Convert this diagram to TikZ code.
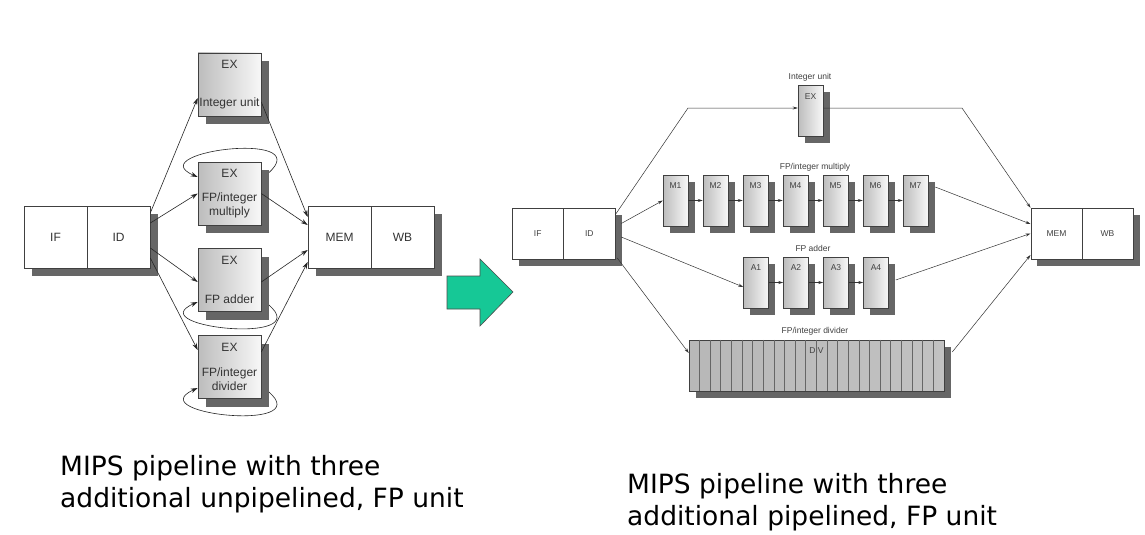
\documentclass[tikz,border=0pt]{standalone}
\usepackage{fontspec}
\setmainfont{Liberation Sans}
\newfontfamily\capfont{DejaVu Sans}
\usetikzlibrary{calc, arrows.meta, shadows, backgrounds}

\definecolor{arrowgreen}{RGB}{22,200,150}

\tikzset{
  stagebox/.style={draw=black!75, fill=white, line width=0.6pt, inner sep=0pt,
    minimum width=63pt, minimum height=62pt, text=black!80, font=\fontsize{12}{14}\selectfont,
    drop shadow={shadow xshift=8pt, shadow yshift=-8pt, fill=black!60, opacity=1}},
  exbox/.style={stagebox, left color=black!26, right color=black!3, minimum height=63pt},
  lbl/.style={text=black!80, font=\fontsize{12}{14}\selectfont, align=center, inner sep=0pt},
  larrow/.style={line width=0.6pt, black!85, -{Stealth[length=7pt, width=4.5pt]}},
  rstage/.style={draw=black!75, fill=white, line width=0.5pt, inner sep=0pt,
    minimum width=51.5pt, minimum height=51pt, text=black!75, font=\fontsize{8.5}{10}\selectfont,
    drop shadow={shadow xshift=6.5pt, shadow yshift=-6.5pt, fill=black!60, opacity=1}},
  unitbox/.style={draw=black!75, left color=black!26, right color=black!3, line width=0.5pt,
    inner sep=0pt, minimum width=25pt, minimum height=51pt,
    drop shadow={shadow xshift=6.5pt, shadow yshift=-6.5pt, fill=black!60, opacity=1},
    label={[unitlbl]north:#1}},
  unitlbl/.style={anchor=north, inner sep=0pt, yshift=-8pt, text=black!75, font=\fontsize{8.5}{10}\selectfont},
  grplbl/.style={text=black!75, font=\fontsize{8.5}{10}\selectfont, inner sep=0pt},
  rarrow/.style={line width=0.5pt, black!80, -{Stealth[length=5pt, width=3pt]}},
  caption/.style={anchor=base west, inner sep=0pt, font=\capfont\fontsize{26.5}{32}\selectfont}
}

\begin{document}
\begin{tikzpicture}[x=1pt, y=-1pt]
  \useasboundingbox (0,0) rectangle (1145,535);

  % unpipelined FP units
  \node[stagebox] (IFl) at (55.5,237) {IF};
  \node[stagebox] (IDl) at (118.5,237) {ID};
  \node[stagebox] (MEMl) at (339.5,237) {MEM};
  \node[stagebox] (WBl) at (402.5,237) {WB};

  \node[exbox] (EXint) at (229.5,84.5) {};
  \node[exbox] (EXmul) at (229.5,193.5) {};
  \node[exbox] (EXadd) at (229.5,280) {};
  \node[exbox] (EXdiv) at (229.5,367) {};

  \node[lbl] at ($(EXint.north)+(0,12)$) {EX};
  \node[lbl] at ($(EXint.north)+(0,51)$) {Integer unit};
  \node[lbl] at ($(EXmul.north)+(0,12)$) {EX};
  \node[lbl] at ($(EXmul.north)+(0,44)$) {FP/integer\\multiply};
  \node[lbl] at ($(EXadd.north)+(0,12)$) {EX};
  \node[lbl] at ($(EXadd.north)+(0,51)$) {FP adder};
  \node[lbl] at ($(EXdiv.north)+(0,12)$) {EX};
  \node[lbl] at ($(EXdiv.north)+(0,44)$) {FP/integer\\divider};

  \draw[larrow] ([yshift=24pt]IDl.east) -- ([yshift=-13.5pt]EXint.west);
  \draw[larrow] ([yshift=14pt]IDl.east) -- (EXmul.west);
  \draw[larrow] ([yshift=-11pt]IDl.east) -- ([yshift=-2pt]EXadd.west);
  \draw[larrow] ([yshift=-21pt]IDl.east) -- ([yshift=17pt]EXdiv.west);

  \draw[larrow] ([yshift=-17.5pt]EXint.east) -- ([yshift=20pt]MEMl.west);
  \draw[larrow] (EXmul.east) -- ([yshift=12pt]MEMl.west);
  \draw[larrow] ([yshift=-2pt]EXadd.east) -- ([yshift=-13pt]MEMl.west);
  \draw[larrow] ([yshift=15pt]EXdiv.east) -- ([yshift=-25pt]MEMl.west);

  % loops back into the unit
  \begin{scope}[on background layer]
    \fill[white] (0,0) rectangle (1145,535);
    \draw[larrow] ($(EXmul.east)+(1,-15.5)$) .. controls +(68,-50) and +(-60,-26) .. ([yshift=16.5pt]EXmul.west);
    \draw[larrow] ($(EXadd.east)+(1,20)$) .. controls +(68,47) and +(-60,26) .. ([yshift=-22pt]EXadd.west);
    \draw[larrow] ($(EXdiv.east)+(1,20)$) .. controls +(68,47) and +(-60,27) .. ([yshift=-21pt]EXdiv.west);
  \end{scope}

  % big arrow
  \filldraw[fill=arrowgreen, draw=black!70, line width=0.6pt]
    (447,276) -- (480,276) -- (480,259) -- (513,292) -- (480,326) -- (480,309) -- (447,309) -- cycle;

  % pipelined FP units
  \node[rstage] (IFr) at (537.75,233.5) {IF};
  \node[rstage] (IDr) at (589.25,233.5) {ID};
  \node[rstage] (MEMr) at (1056.5,233.5) {MEM};
  \node[rstage] (WBr) at (1107.5,233.5) {WB};

  \node[unitbox=EX] (EXr) at (810.5,111) {};
  \foreach \i in {1,...,7}
    \node[unitbox=M\i] (M\i) at ({675.5+40*(\i-1)},200.5) {};
  \foreach \i in {1,...,4}
    \node[unitbox=A\i] (A\i) at ({756+40*(\i-1)},282.5) {};
  \node[unitbox=DIV, minimum width=255pt, left color=black!28, middle color=black!5, right color=black!24] (DIV) at (816.5,365.5) {};
  \foreach \k in {1,...,23}
    \draw[black!60, line width=0.4pt] ($(DIV.north west)+(\k*10.625,0)$) -- ($(DIV.south west)+(\k*10.625,0)$);

  \node[grplbl] at (810,77) {Integer unit};
  \node[grplbl] at (815,167) {FP/integer multiply};
  \node[grplbl] at (813,248) {FP adder};
  \node[grplbl] at (815,331) {FP/integer divider};

  \coordinate (bendtop) at (688,108);
  \coordinate (bendmem) at (962,108);
  \draw[rarrow] ([yshift=-7pt]IDr.north east) -- (bendtop) -- ([yshift=3pt]EXr.west);
  \draw[rarrow] ([yshift=3pt]EXr.east) -- (bendmem) -- (MEMr.north west);

  \draw[rarrow] ([xshift=6pt, yshift=10pt]IDr.east) -- (M1.west);
  \foreach \i [evaluate=\i as \j using int(\i+1)] in {1,...,6}
    \draw[rarrow] (M\i.east) -- (M\j.west);
  \draw[rarrow] ([xshift=7pt, yshift=13.5pt]M7.east) -- ([yshift=9.5pt]MEMr.west);

  \draw[rarrow] ([xshift=6pt, yshift=-3.5pt]IDr.east) -- ([yshift=-4.5pt]A1.west);
  \foreach \i [evaluate=\i as \j using int(\i+1)] in {1,...,3}
    \draw[rarrow] (A\i.east) -- (A\j.west);
  \draw[rarrow] ([xshift=7pt, yshift=2.5pt]A4.east) -- (MEMr.west);

  \draw[rarrow] ([xshift=2pt, yshift=-24.5pt]IDr.east) -- ([yshift=12.5pt]DIV.west);
  \draw[rarrow] ([xshift=8pt, yshift=13.5pt]DIV.east) -- ([yshift=-21.5pt]MEMr.west);

  % captions
  \node[caption] at (60,475) {MIPS pipeline with three};
  \node[caption] at (60,507) {additional unpipelined, FP unit};
  \node[caption] at (627,493) {MIPS pipeline with three};
  \node[caption] at (627,525) {additional pipelined, FP unit};
\end{tikzpicture}
\end{document}
